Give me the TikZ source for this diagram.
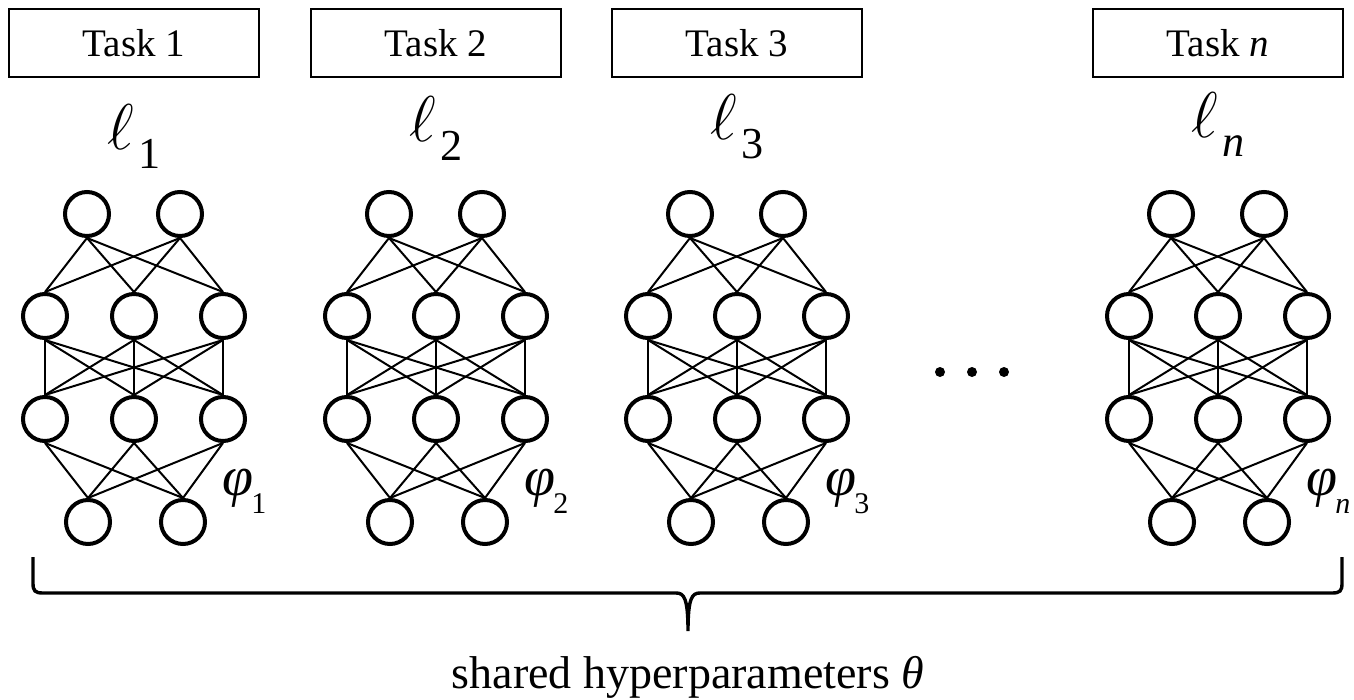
\RequirePackage{fix-cm}
\documentclass[tikz,border=0pt]{standalone}
\usepackage{amsmath}
\usepackage{fontspec}
\setmainfont{Liberation Serif}

\begin{document}
\begin{tikzpicture}[x=0.5pt, y=-0.5pt,
    neuron/.style={circle, draw, line width=2pt, inner sep=0pt, minimum size=22pt},
    weight/.style={line width=1pt},
    taskbox/.style={draw, line width=0.8pt, inner sep=0pt, minimum width=125pt, minimum height=34pt, font=\fontsize{19.5}{22}\selectfont}]
  \useasboundingbox (0,0) rectangle (1354,700);
  \foreach \c/\t/\s/\ly in {134/1/1/150, 436/2/2/142, 737/3/3/140, 1218/\textit{n}/n/138} {
    \begin{scope}[shift={(\c,0)}]
      \node[taskbox] (task-\s) at (0,43) {Task \t};
      \node[font=\fontsize{24.88}{28}\selectfont, scale=1.3, anchor=base, inner sep=0pt] (loss-\s) at (0,\ly) {$\ell$\hspace{2pt}\raisebox{-7pt}{\fontsize{17}{20}\selectfont\t}};
      % layers
      \node[neuron] (a1-\s) at (-47,214) {};
      \node[neuron] (a2-\s) at (46,214) {};
      \node[neuron] (b1-\s) at (-89,316) {};
      \node[neuron] (b2-\s) at (0,316) {};
      \node[neuron] (b3-\s) at (89,316) {};
      \node[neuron] (c1-\s) at (-89,419) {};
      \node[neuron] (c2-\s) at (0,419) {};
      \node[neuron] (c3-\s) at (89,419) {};
      \node[neuron] (d1-\s) at (-46,522) {};
      \node[neuron] (d2-\s) at (49,522) {};
      \node[font=\fontsize{28}{32}\selectfont, anchor=base west, inner sep=0pt] (param-\s) at (88,495) {\textit{φ}\hspace{-1pt}\raisebox{-9pt}{\fontsize{15}{18}\selectfont\t}};
      % weights
      \foreach \j in {1,2,3} {
        \foreach \i in {1,2} \draw[weight] (a\i-\s.south) -- (b\j-\s.north);
        \foreach \i in {1,2,3} \draw[weight] (b\i-\s.south) -- (c\j-\s.north);
        \foreach \i in {1,2} \draw[weight] (c\j-\s.south) -- (d\i-\s.north);
      }
    \end{scope}
  }
  \foreach \x in {940,972,1004} \fill (\x,372) circle (5);
  % brace
  \draw[line width=1.7pt] (33,557) -- (33,583) .. controls (33,591) and (35,593) .. (43,593) -- (676,593)
    .. controls (684,593) and (688,598) .. (688,631) .. controls (688,598) and (692,593) .. (700,593)
    -- (1332,593) .. controls (1340,593) and (1342,591) .. (1342,583) -- (1342,557);
  \node[font=\fontsize{23}{27}\selectfont, anchor=base] (shared) at (688,688) {shared hyperparameters \textit{θ}};
\end{tikzpicture}
\end{document}
